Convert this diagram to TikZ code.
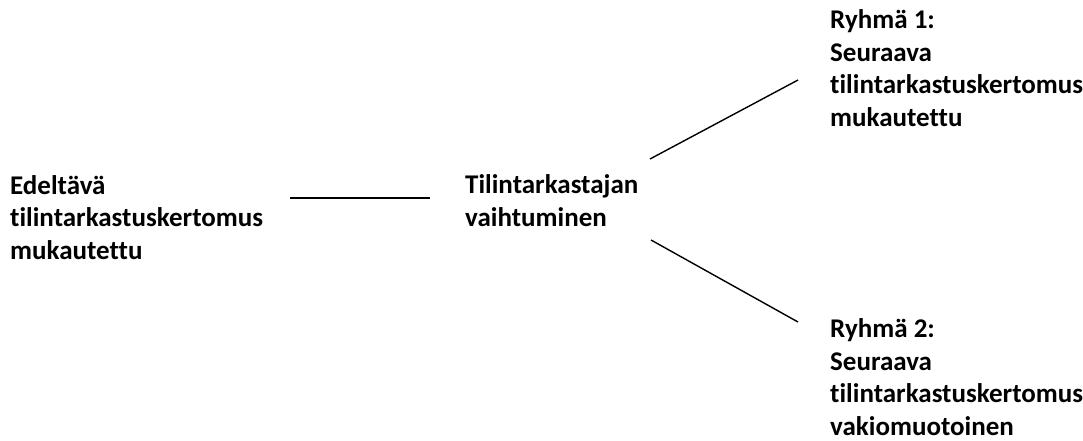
\documentclass[tikz,border=0pt]{standalone}
\usepackage{fontspec}
\setmainfont{Carlito}[Ligatures=NoCommon]
\begin{document}
\begin{tikzpicture}[x=1pt,y=-1pt,
  label/.style={anchor=base west,inner sep=0pt,align=left,
    font=\fontsize{27}{32.5}\selectfont\bfseries},
  link/.style={line width=1.4pt,black}]
\useasboundingbox (0,0) rectangle (1083,441);
% text blocks, placed by the baseline of their last line
\node[label] (prev) at (10,259) {Edeltävä\\tilintarkastuskertomus\\mukautettu};
\node[label] (change) at (465,226) {Tilintarkastajan\\vaihtuminen};
\node[label] (grp1) at (830,126) {Ryhmä 1:\\Seuraava\\tilintarkastuskertomus\\mukautettu};
\node[label] (grp2) at (830,435) {Ryhmä 2:\\Seuraava\\tilintarkastuskertomus\\vakiomuotoinen};
% line ends
\coordinate (a1) at (290,198);
\coordinate (a2) at (430,198);
\coordinate (b1) at (650,159);
\coordinate (b2) at (798,80);
\coordinate (c1) at (651,240);
\coordinate (c2) at (798,322);
\draw[link] (a1) -- (a2);
\draw[link] (b1) -- (b2);
\draw[link] (c1) -- (c2);
\end{tikzpicture}
\end{document}
